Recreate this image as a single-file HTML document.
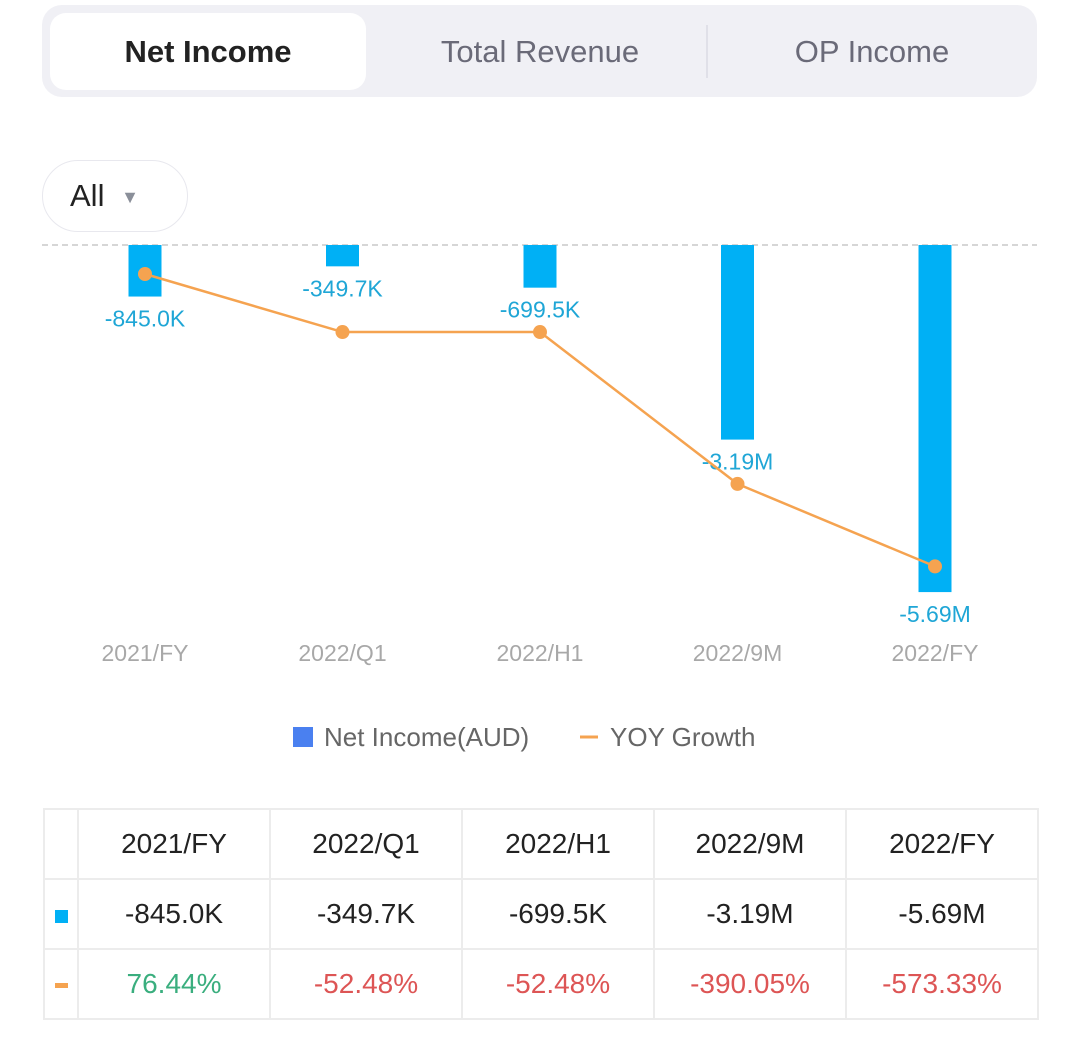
<!DOCTYPE html>
<html><head><meta charset="utf-8"><style>
body{margin:0;width:1080px;height:1050px;background:#fff;font-family:"Liberation Sans",sans-serif;position:relative;overflow:hidden}
.tabs{position:absolute;left:42px;top:5px;width:995px;height:92px;background:#f0f0f5;border-radius:20px}
.tab{position:absolute;top:8px;height:77px;line-height:77px;text-align:center;font-size:31px;color:#6a6a78}
.tab.active{background:#fff;border-radius:16px;color:#222;font-weight:bold}
.all{position:absolute;left:42px;top:160px;width:146px;height:72px;border:1px solid #e8e8ee;border-radius:36px;box-sizing:border-box;font-size:31px;color:#222;line-height:70px;padding-left:27px}
table{position:absolute;left:43px;top:808px;border-collapse:collapse;font-size:28px;color:#222}
td{border:2px solid #ececec;height:68px;text-align:center;padding:0}
</style></head><body>
<div class="tabs">
<div class="tab active" style="left:8px;width:316px">Net Income</div>
<div class="tab" style="left:340px;width:316px">Total Revenue</div>
<div style="position:absolute;left:664px;top:20px;width:2px;height:53px;background:#e0e0e8"></div>
<div class="tab" style="left:672px;width:316px">OP Income</div>
</div>
<div class="all">All <span style="font-size:18px;color:#8a8f99;margin-left:8px;vertical-align:3px">▼</span></div>
<svg id="chart" width="1080" height="780" style="position:absolute;left:0;top:0"></svg>
<table>
<tr><td style="width:32px"></td><td style="width:190px">2021/FY</td><td style="width:190px">2022/Q1</td><td style="width:190px">2022/H1</td><td style="width:190px">2022/9M</td><td style="width:190px">2022/FY</td></tr>
<tr><td><span style="display:inline-block;width:13px;height:13px;background:#00b0f5"></span></td><td>-845.0K</td><td>-349.7K</td><td>-699.5K</td><td>-3.19M</td><td>-5.69M</td></tr>
<tr><td><span style="display:inline-block;width:13px;height:5px;background:#f5a350;vertical-align:middle"></span></td><td style="color:#3aae7e">76.44%</td><td style="color:#dd5555">-52.48%</td><td style="color:#dd5555">-52.48%</td><td style="color:#dd5555">-390.05%</td><td style="color:#dd5555">-573.33%</td></tr>
</table>
<script>
const categories=["2021/FY","2022/Q1","2022/H1","2022/9M","2022/FY"];
const netIncome=[-0.845,-0.3497,-0.6995,-3.19,-5.69];
const netLabels=["-845.0K","-349.7K","-699.5K","-3.19M","-5.69M"];
const yoy=[76.44,-52.48,-52.48,-390.05,-573.33];
const svg=document.getElementById('chart');
const NS='http://www.w3.org/2000/svg';
const x=i=>145+i*197.5;
const yBar=v=>245-v*61;
const yLine=v=>274+(76.44-v)*0.45;
function mk(t,a){const e=document.createElementNS(NS,t);for(const k in a)e.setAttribute(k,a[k]);svg.appendChild(e);return e;}
const base=mk('line',{x1:42,x2:1037,y1:245,y2:245,stroke:'#c8c8c8','stroke-width':1.5,'stroke-dasharray':'6,4'});


netIncome.forEach((v,i)=>{
 const r=mk('rect',{x:x(i)-16.5,y:245,width:33,height:Math.max(0,yBar(v)-245),fill:'#00b0f5'});
 
 
 const t=mk('text',{x:x(i),y:yBar(v)+30,'text-anchor':'middle','font-size':23,fill:'#1fa6d6','font-family':'Liberation Sans'});
 t.textContent=netLabels[i];
 
 
 const c=mk('text',{x:x(i),y:661,'text-anchor':'middle','font-size':23,fill:'#a8a8a8','font-family':'Liberation Sans'});
 c.textContent=categories[i];
 
 
});
const pl=mk('polyline',{points:yoy.map((v,i)=>x(i)+','+yLine(v)).join(' '),fill:'none',stroke:'#f5a350','stroke-width':2.5});


yoy.forEach((v,i)=>{
 const c=mk('circle',{cx:x(i),cy:yLine(v),r:7,fill:'#f5a350'});
 
 
});
const ls=mk('rect',{x:293,y:727,width:20,height:20,fill:'#4a80f0'});


const lt=mk('text',{x:324,y:746,'font-size':26,fill:'#666','font-family':'Liberation Sans'});
lt.textContent='Net Income(AUD)';


const ll=mk('line',{x1:580,x2:598,y1:737,y2:737,stroke:'#f5a350','stroke-width':3});


const lt2=mk('text',{x:610,y:746,'font-size':26,fill:'#666','font-family':'Liberation Sans'});
lt2.textContent='YOY Growth';


</script>
</body></html>
